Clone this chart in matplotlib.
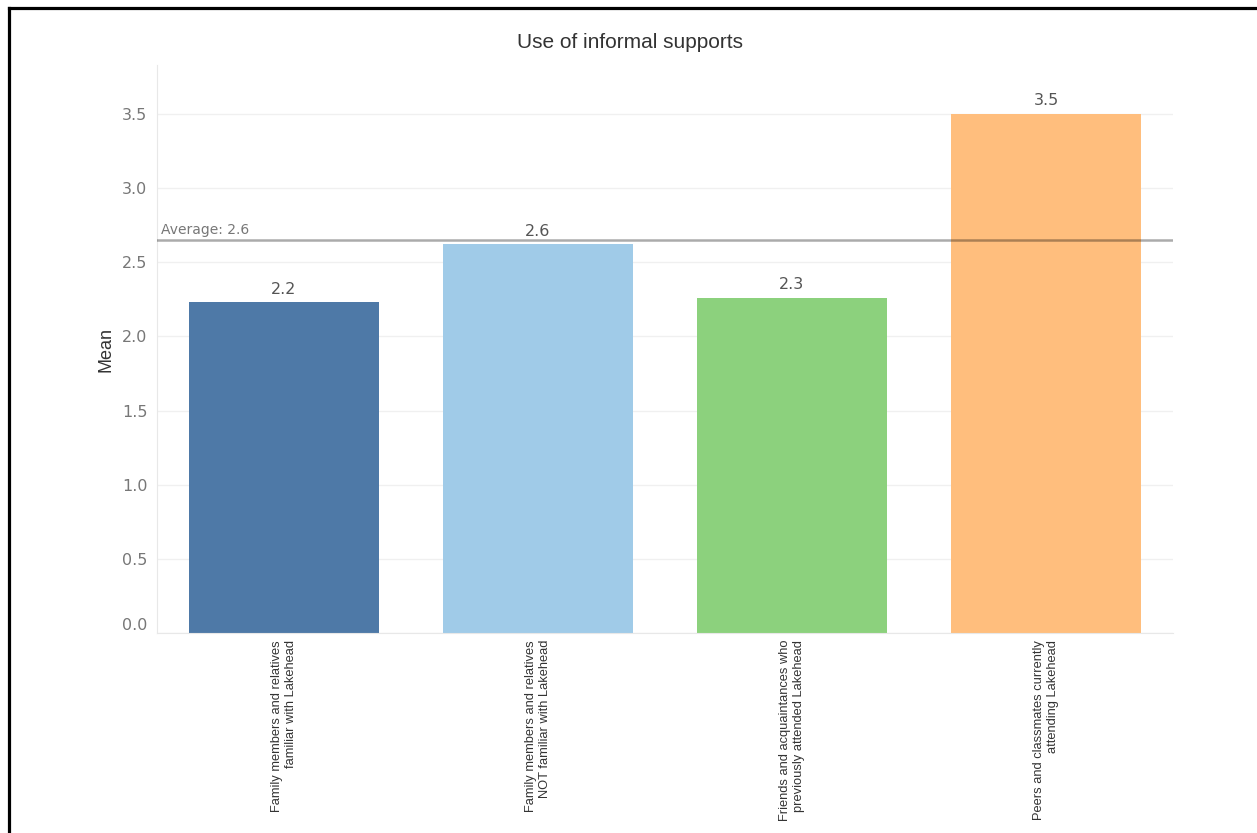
import matplotlib.pyplot as plt
from matplotlib.lines import Line2D

# data
categories = [
    "Family members and relatives\nfamiliar with Lakehead",
    "Family members and relatives\nNOT familiar with Lakehead",
    "Friends and acquaintances who\npreviously attended Lakehead",
    "Peers and classmates currently\nattending Lakehead",
]
means = [2.23, 2.62, 2.26, 3.50]
value_labels = ["2.2", "2.6", "2.3", "3.5"]
average_label = "Average: 2.6"
colors = ["#4E79A7", "#A0CBE8", "#8CD17D", "#FFBE7D"]


def plot_bars():
    W, H = 1257, 833
    fig = plt.figure(figsize=(W / 100, H / 100), dpi=100)
    fig.patch.set_facecolor("white")

    ax = fig.add_axes([157 / W, 200 / H, (1173 - 157) / W, (633 - 65) / H])
    x = list(range(len(categories)))
    ax.bar(x, means, width=0.75, color=colors, zorder=2)

    ax.set_xlim(-0.5, 3.5)
    ax.set_ylim(0, 3.83)
    ax.set_yticks([0, 0.5, 1.0, 1.5, 2.0, 2.5, 3.0, 3.5])
    ax.set_yticklabels(["%.1f" % t for t in ax.get_yticks()])
    ax.set_xticks(x)
    ax.set_xticklabels(categories, rotation=90, ha="center", va="top",
                       multialignment="right", fontsize=9.3,
                       linespacing=1.3, family="Liberation Sans",
                       color="#333333")
    ax.tick_params(axis="x", length=0, pad=5)
    ax.tick_params(axis="y", length=0, pad=7, labelsize=11.5,
                   labelcolor="#777777")
    for lab in ax.get_yticklabels():
        lab.set_family("DejaVu Sans")
    # tableau nudges the 0.0 label up so it stays inside the pane
    ax.get_yticklabels()[0].set_va("bottom")

    ax.grid(axis="y", color="#f0f0f0", lw=1, zorder=0)
    for s in ["top", "right"]:
        ax.spines[s].set_visible(False)
    ax.spines["left"].set_color("#e8e8e8")
    ax.spines["bottom"].set_color("#e8e8e8")

    # value labels
    for xi, v, t in zip(x, means, value_labels):
        ax.annotate(t, xy=(xi, v), xytext=(0, 4), textcoords="offset points",
                    ha="center", va="bottom", fontsize=11.5,
                    family="DejaVu Sans", color="#555555")

    # reference line
    avg = sum(means) / len(means)
    ax.axhline(avg, color="black", alpha=0.33, lw=1.8, zorder=3)
    ax.annotate(average_label, xy=(0, avg), xycoords=("axes fraction", "data"),
                xytext=(3, 2), textcoords="offset points", ha="left",
                va="bottom", fontsize=10, family="DejaVu Sans",
                color="#777777")

    ax.set_ylabel("Mean", fontsize=13, family="Liberation Sans",
                  color="#333333", labelpad=5)
    fig.text(630 / W, 1 - 43 / H, "Use of informal supports", ha="center",
             va="center", fontsize=15, family="Liberation Sans",
             color="#333333")

    # frame of the screenshot (top and left edges only)
    fig.add_artist(Line2D([8.5 / W, 8.5 / W], [0, 1 - 7.5 / H],
                          transform=fig.transFigure, color="black", lw=2.3))
    fig.add_artist(Line2D([8.5 / W, 1], [1 - 7.5 / H, 1 - 7.5 / H],
                          transform=fig.transFigure, color="black", lw=2.3))

    plt.savefig("out.png", dpi=100)


if __name__ == "__main__":
    plot_bars()
